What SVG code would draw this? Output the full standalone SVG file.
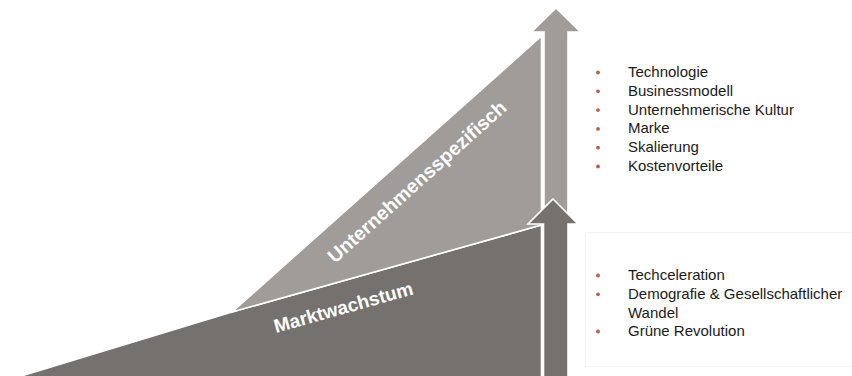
<svg xmlns="http://www.w3.org/2000/svg" width="852" height="376" viewBox="0 0 852 376">
  <style>
    .light { fill: #9f9c99; stroke: #ffffff; stroke-width: 1.6; stroke-linejoin: miter; }
    .dark { fill: #75716e; stroke: #ffffff; stroke-width: 1.6; stroke-linejoin: miter; }
    .label { font-family: "Liberation Sans", Arial, sans-serif; font-weight: bold; fill: #ffffff; }
    .item { font-family: "Liberation Sans", Arial, sans-serif; font-size: 15px; fill: #1a1a1a; }
    .dot { fill: #b8604a; }
    .box { fill: #ffffff; stroke: #f3f3f3; stroke-width: 1; }
  </style>

  <rect width="852" height="376" fill="#ffffff"/>

  <!-- faint text panel behind the lower list -->
  <rect class="box" x="585.5" y="232.5" width="280" height="134"/>
  <line x1="566" y1="223" x2="566" y2="376" stroke="#f5f5f5" stroke-width="1"/>

  <!-- market growth wedge -->
  <g id="marktwachstum">
    <polygon class="dark" points="18,377 232,312 541.5,225 541.5,377"/>
    <text class="label" font-size="19" transform="translate(276,333) rotate(-15.7)">Marktwachstum</text>
  </g>

  <!-- company-specific wedge -->
  <g id="unternehmensspezifisch">
    <polygon class="light" points="232,312 541.5,36 541.5,225"/>
    <text class="label" font-size="19.6" transform="translate(335,264) rotate(-41.8)">Unternehmensspezifisch</text>
  </g>

  <!-- growth arrows -->
  <g id="connectors">
    <polygon id="arrow-upper" class="light" points="556,8 580.5,32 568,32 568,230 544,230 544,32 531.5,32"/>
    <polygon id="arrow-lower" class="dark" points="553,199 578,224 568,224 568,377 543.5,377 543.5,224 528,224"/>
  </g>

  <!-- company-specific drivers -->
  <g id="liste-unternehmen">
    <circle class="dot" cx="598" cy="72.5" r="1.9"/>
    <circle class="dot" cx="598" cy="91.3" r="1.9"/>
    <circle class="dot" cx="598" cy="110.1" r="1.9"/>
    <circle class="dot" cx="598" cy="128.9" r="1.9"/>
    <circle class="dot" cx="598" cy="147.7" r="1.9"/>
    <circle class="dot" cx="598" cy="166.5" r="1.9"/>
    <text class="item" x="628" y="77">Technologie</text>
    <text class="item" x="628" y="95.8">Businessmodell</text>
    <text class="item" x="628" y="114.6">Unternehmerische Kultur</text>
    <text class="item" x="628" y="133.4">Marke</text>
    <text class="item" x="628" y="152.2">Skalierung</text>
    <text class="item" x="628" y="171">Kostenvorteile</text>
  </g>

  <!-- market drivers -->
  <g id="liste-markt">
    <circle class="dot" cx="598" cy="275.5" r="1.9"/>
    <circle class="dot" cx="598" cy="294.3" r="1.9"/>
    <circle class="dot" cx="598" cy="331.5" r="1.9"/>
    <text class="item" x="628" y="280">Techceleration</text>
    <text class="item" x="628" y="298.8">Demografie &amp; Gesellschaftlicher</text>
    <text class="item" x="628" y="317.6">Wandel</text>
    <text class="item" x="628" y="336">Grüne Revolution</text>
  </g>
</svg>
